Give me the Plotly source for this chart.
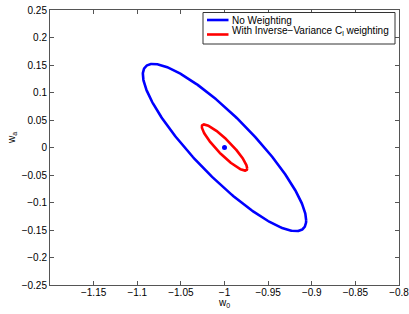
import numpy as np
import plotly.graph_objects as go

# ---- data ----
series_names = ["No Weighting", "With Inverse\u2212Variance C<sub>l</sub> weighting"]
series_colors = ["#0000ff", "#ff0000"]
center_w0 = [-1.0, -1.0]
center_wa = [0.0, 0.0]
sigma_w0 = [0.0936, 0.0260]
sigma_wa = [0.1520, 0.0420]
corr = [-0.872, -0.904]
fid_w0 = [-1.0]
fid_wa = [0.0]
x_ticks = [-1.15, -1.1, -1.05, -1.0, -0.95, -0.9, -0.85, -0.8]
y_ticks = [-0.25, -0.2, -0.15, -0.1, -0.05, 0, 0.05, 0.1, 0.15, 0.2, 0.25]
x_tick_labels = ["\u22121.15", "\u22121.1", "\u22121.05", "\u22121", "\u22120.95", "\u22120.9", "\u22120.85", "\u22120.8"]
y_tick_labels = ["\u22120.25", "\u22120.2", "\u22120.15", "\u22120.1", "\u22120.05", "0", "0.05", "0.1", "0.15", "0.2", "0.25"]
x_title = "w<sub>0</sub>"
y_title = "w<sub>a</sub>"

W, H = 409, 314
L, R, T, B = 50, 10, 10, 29
PW, PH = W - L - R, H - T - B

def px(x):
    return (x - L) / PW

def py(y):
    return 1 - (y - T) / PH

t = np.linspace(0, 2 * np.pi, 400)
fig = go.Figure()
for i in range(2):
    xs = center_w0[i] + sigma_w0[i] * np.cos(t)
    ys = center_wa[i] + sigma_wa[i] * (corr[i] * np.cos(t) + np.sqrt(1 - corr[i] ** 2) * np.sin(t))
    fig.add_trace(go.Scatter(x=xs, y=ys, mode="lines", name=series_names[i],
                             line=dict(color=series_colors[i], width=2.6), showlegend=False,
                             hoverinfo="skip"))
fig.add_trace(go.Scatter(x=fid_w0, y=fid_wa, mode="markers",
                         marker=dict(color="#0000ff", size=5), showlegend=False))

# manual legend (MATLAB-style compact box)
shapes = [dict(type="rect", xref="paper", yref="paper", x0=px(203), x1=px(395), y0=py(44), y1=py(12.5),
               line=dict(color="#333", width=1), fillcolor="white", layer="above")]
annotations = []
line_y = [20, 34.5]
text_y = [20, 30.5]
for i in range(2):
    shapes.append(dict(type="line", xref="paper", yref="paper", x0=px(207), x1=px(228.5),
                       y0=py(line_y[i]), y1=py(line_y[i]),
                       line=dict(color=series_colors[i], width=2.6), layer="above"))
    annotations.append(dict(text=series_names[i], xref="paper", yref="paper", x=px(229.5), y=py(text_y[i]),
                            xanchor="left", yanchor="middle", showarrow=False,
                            font=dict(size=10, color="black")))
# axis titles
annotations.append(dict(text=x_title, xref="paper", yref="paper", x=px(224), y=py(302.5),
                        xanchor="center", yanchor="middle", showarrow=False,
                        font=dict(size=10, color="black")))
annotations.append(dict(text=y_title, xref="paper", yref="paper", x=px(12), y=py(138),
                        xanchor="center", yanchor="middle", showarrow=False, textangle=-90,
                        font=dict(size=10, color="black")))

axis_common = dict(showline=True, linecolor="#555", linewidth=1, mirror="ticks", ticks="inside",
                   ticklen=4, tickcolor="#555", showgrid=False, zeroline=False, automargin=False,
                   ticklabeloverflow="allow", tickfont=dict(size=10, color="black"))
fig.update_layout(
    width=W, height=H, margin=dict(l=L, r=R, t=T, b=B),
    paper_bgcolor="white", plot_bgcolor="white",
    font=dict(family="Liberation Sans, Arial, sans-serif", size=10, color="black"),
    shapes=shapes, annotations=annotations,
    xaxis=dict(range=[-1.2, -0.8 + 1e-9], tickvals=x_ticks, ticktext=x_tick_labels,
               ticklabelstandoff=-2, **axis_common),
    yaxis=dict(range=[-0.25 - 1e-9, 0.25 + 1e-9], tickvals=y_ticks, ticktext=y_tick_labels, **axis_common),
)
fig.write_html("out.html", config={"displayModeBar": False},
               post_script="document.body.style.margin='0';")
